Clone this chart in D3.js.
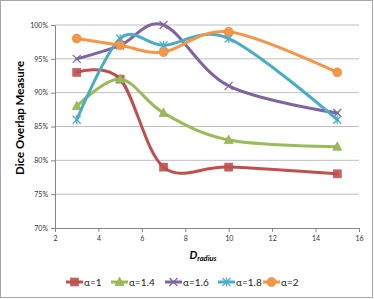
<!DOCTYPE html>
<html>
<head>
<meta charset="utf-8">
<script src="https://cdn.jsdelivr.net/npm/d3@7"></script>
<style>
body { margin: 0; background: #fff; }
text { font-family: Lato, "Open Sans", sans-serif; }
</style>
</head>
<body>
<div id="chart"></div>
<script>
// data
var radius = [3, 5, 7, 10, 15];
var names = ["α=1", "α=1.4", "α=1.6", "α=1.8", "α=2"];
var a10 = [93, 92, 79, 79, 78];
var a14 = [88, 92, 87, 83, 82];
var a16 = [95, 97, 100, 91, 87];
var a18 = [86, 98, 97, 98, 86];
var a20 = [98, 97, 96, 99, 93];
var xTicks = [2, 4, 6, 8, 10, 12, 14, 16];
var yTicks = [70, 75, 80, 85, 90, 95, 100];

var colors = ["#C0504D", "#9BBB59", "#8064A2", "#4BACC6", "#F79646"];
var shapes = ["square", "triangle", "x", "star", "circle"];
var series = [a10, a14, a16, a18, a20].map(function(v, i) {
    return {name: names[i], color: colors[i], shape: shapes[i],
            pts: radius.map(function(r, j) { return {x: r, y: v[j]}; })};
});

var W = 374, H = 299;
var svg = d3.select("#chart").append("svg")
    .attr("width", W).attr("height", H);

svg.append("rect")
    .attr("x", 0.5).attr("y", 0.5)
    .attr("width", W - 2).attr("height", H - 2)
    .attr("fill", "#fff").attr("stroke", "#a6a6a6");

var x = d3.scaleLinear().domain([2, 16]).range([55, 359]);
var y = d3.scaleLinear().domain([70, 100]).range([228, 25]);

// grid
svg.append("g").selectAll("line").data(yTicks.slice(1)).join("line")
    .attr("x1", x(2)).attr("x2", x(16))
    .attr("y1", function(d) { return y(d); })
    .attr("y2", function(d) { return y(d); })
    .attr("stroke", "#bfbfbf").attr("stroke-width", 1);

var xAxis = svg.append("g")
    .attr("transform", "translate(0," + y(70) + ")")
    .call(d3.axisBottom(x).tickValues(xTicks).tickSize(4).tickSizeOuter(0));
var yAxis = svg.append("g")
    .attr("transform", "translate(" + x(2) + ",0)")
    .call(d3.axisLeft(y).tickValues(yTicks).tickSize(4).tickSizeOuter(0)
          .tickFormat(function(d) { return d + "%"; }));
[xAxis, yAxis].forEach(function(a) {
    a.select(".domain").attr("stroke", "#868686");
    a.selectAll(".tick line").attr("stroke", "#868686");
    a.selectAll(".tick text").attr("font-size", 7).attr("fill", "#333")
        .style("font-family", "Lato, sans-serif");
});
xAxis.selectAll(".tick text").attr("dy", "0.9em");

// axis titles
svg.append("text")
    .attr("transform", "translate(24,118) rotate(-90)")
    .attr("text-anchor", "middle")
    .attr("font-size", 11.5).attr("font-weight", "bold")
    .text("Dice Overlap Measure");
var xt = svg.append("text")
    .attr("x", 203).attr("y", 259)
    .attr("text-anchor", "middle")
    .attr("font-size", 11).attr("font-weight", "bold").attr("font-style", "italic");
xt.append("tspan").text("D");
xt.append("tspan").attr("font-size", 7.5).attr("dy", 2).text("radius");

var line = d3.line()
    .x(function(d) { return x(d.x); })
    .y(function(d) { return y(d.y); })
    .curve(d3.curveCardinal.tension(0));

function marker(g, shape, color) {
    if (shape == "square") {
        g.append("rect").attr("x", -4).attr("y", -4).attr("width", 8).attr("height", 8)
            .attr("fill", color).attr("stroke", d3.color(color).darker(0.3)).attr("stroke-width", 0.6)
            .attr("opacity", 0.9);
    } else if (shape == "triangle") {
        g.append("path").attr("d", "M0,-5L4.5,3.5L-4.5,3.5Z")
            .attr("fill", color).attr("stroke", d3.color(color).darker(0.3)).attr("stroke-width", 0.6);
    } else if (shape == "circle") {
        g.append("circle").attr("r", 4.5)
            .attr("fill", color).attr("stroke", d3.color(color).darker(0.3)).attr("stroke-width", 0.6);
    } else {
        g.append("path").attr("d", "M-4,-4L4,4M-4,4L4,-4" + (shape == "star" ? "M0,-4.5L0,4.5" : ""))
            .attr("stroke", color).attr("stroke-width", 1.2).attr("fill", "none");
    }
}

series.forEach(function(s) {
    var g = svg.append("g");
    g.append("path").datum(s.pts).attr("d", line)
        .attr("fill", "none").attr("stroke", s.color).attr("stroke-width", 3)
        .attr("stroke-linecap", "round");
    s.pts.forEach(function(p) {
        var m = g.append("g").attr("transform", "translate(" + x(p.x) + "," + y(p.y) + ")");
        marker(m, s.shape, s.color);
    });
});

// legend
var legX = [66, 111, 165, 218, 263];
series.forEach(function(s, i) {
    var g = svg.append("g").attr("transform", "translate(" + legX[i] + ",282)");
    g.append("line").attr("x1", 0).attr("x2", 17)
        .attr("stroke", s.color).attr("stroke-width", 3);
    var m = g.append("g").attr("transform", "translate(8.5,0)");
    marker(m, s.shape, s.color);
    g.append("text").attr("x", 18).attr("y", 3.5)
        .attr("font-size", 10).attr("fill", "#222").text(s.name);
});
</script>
</body>
</html>
